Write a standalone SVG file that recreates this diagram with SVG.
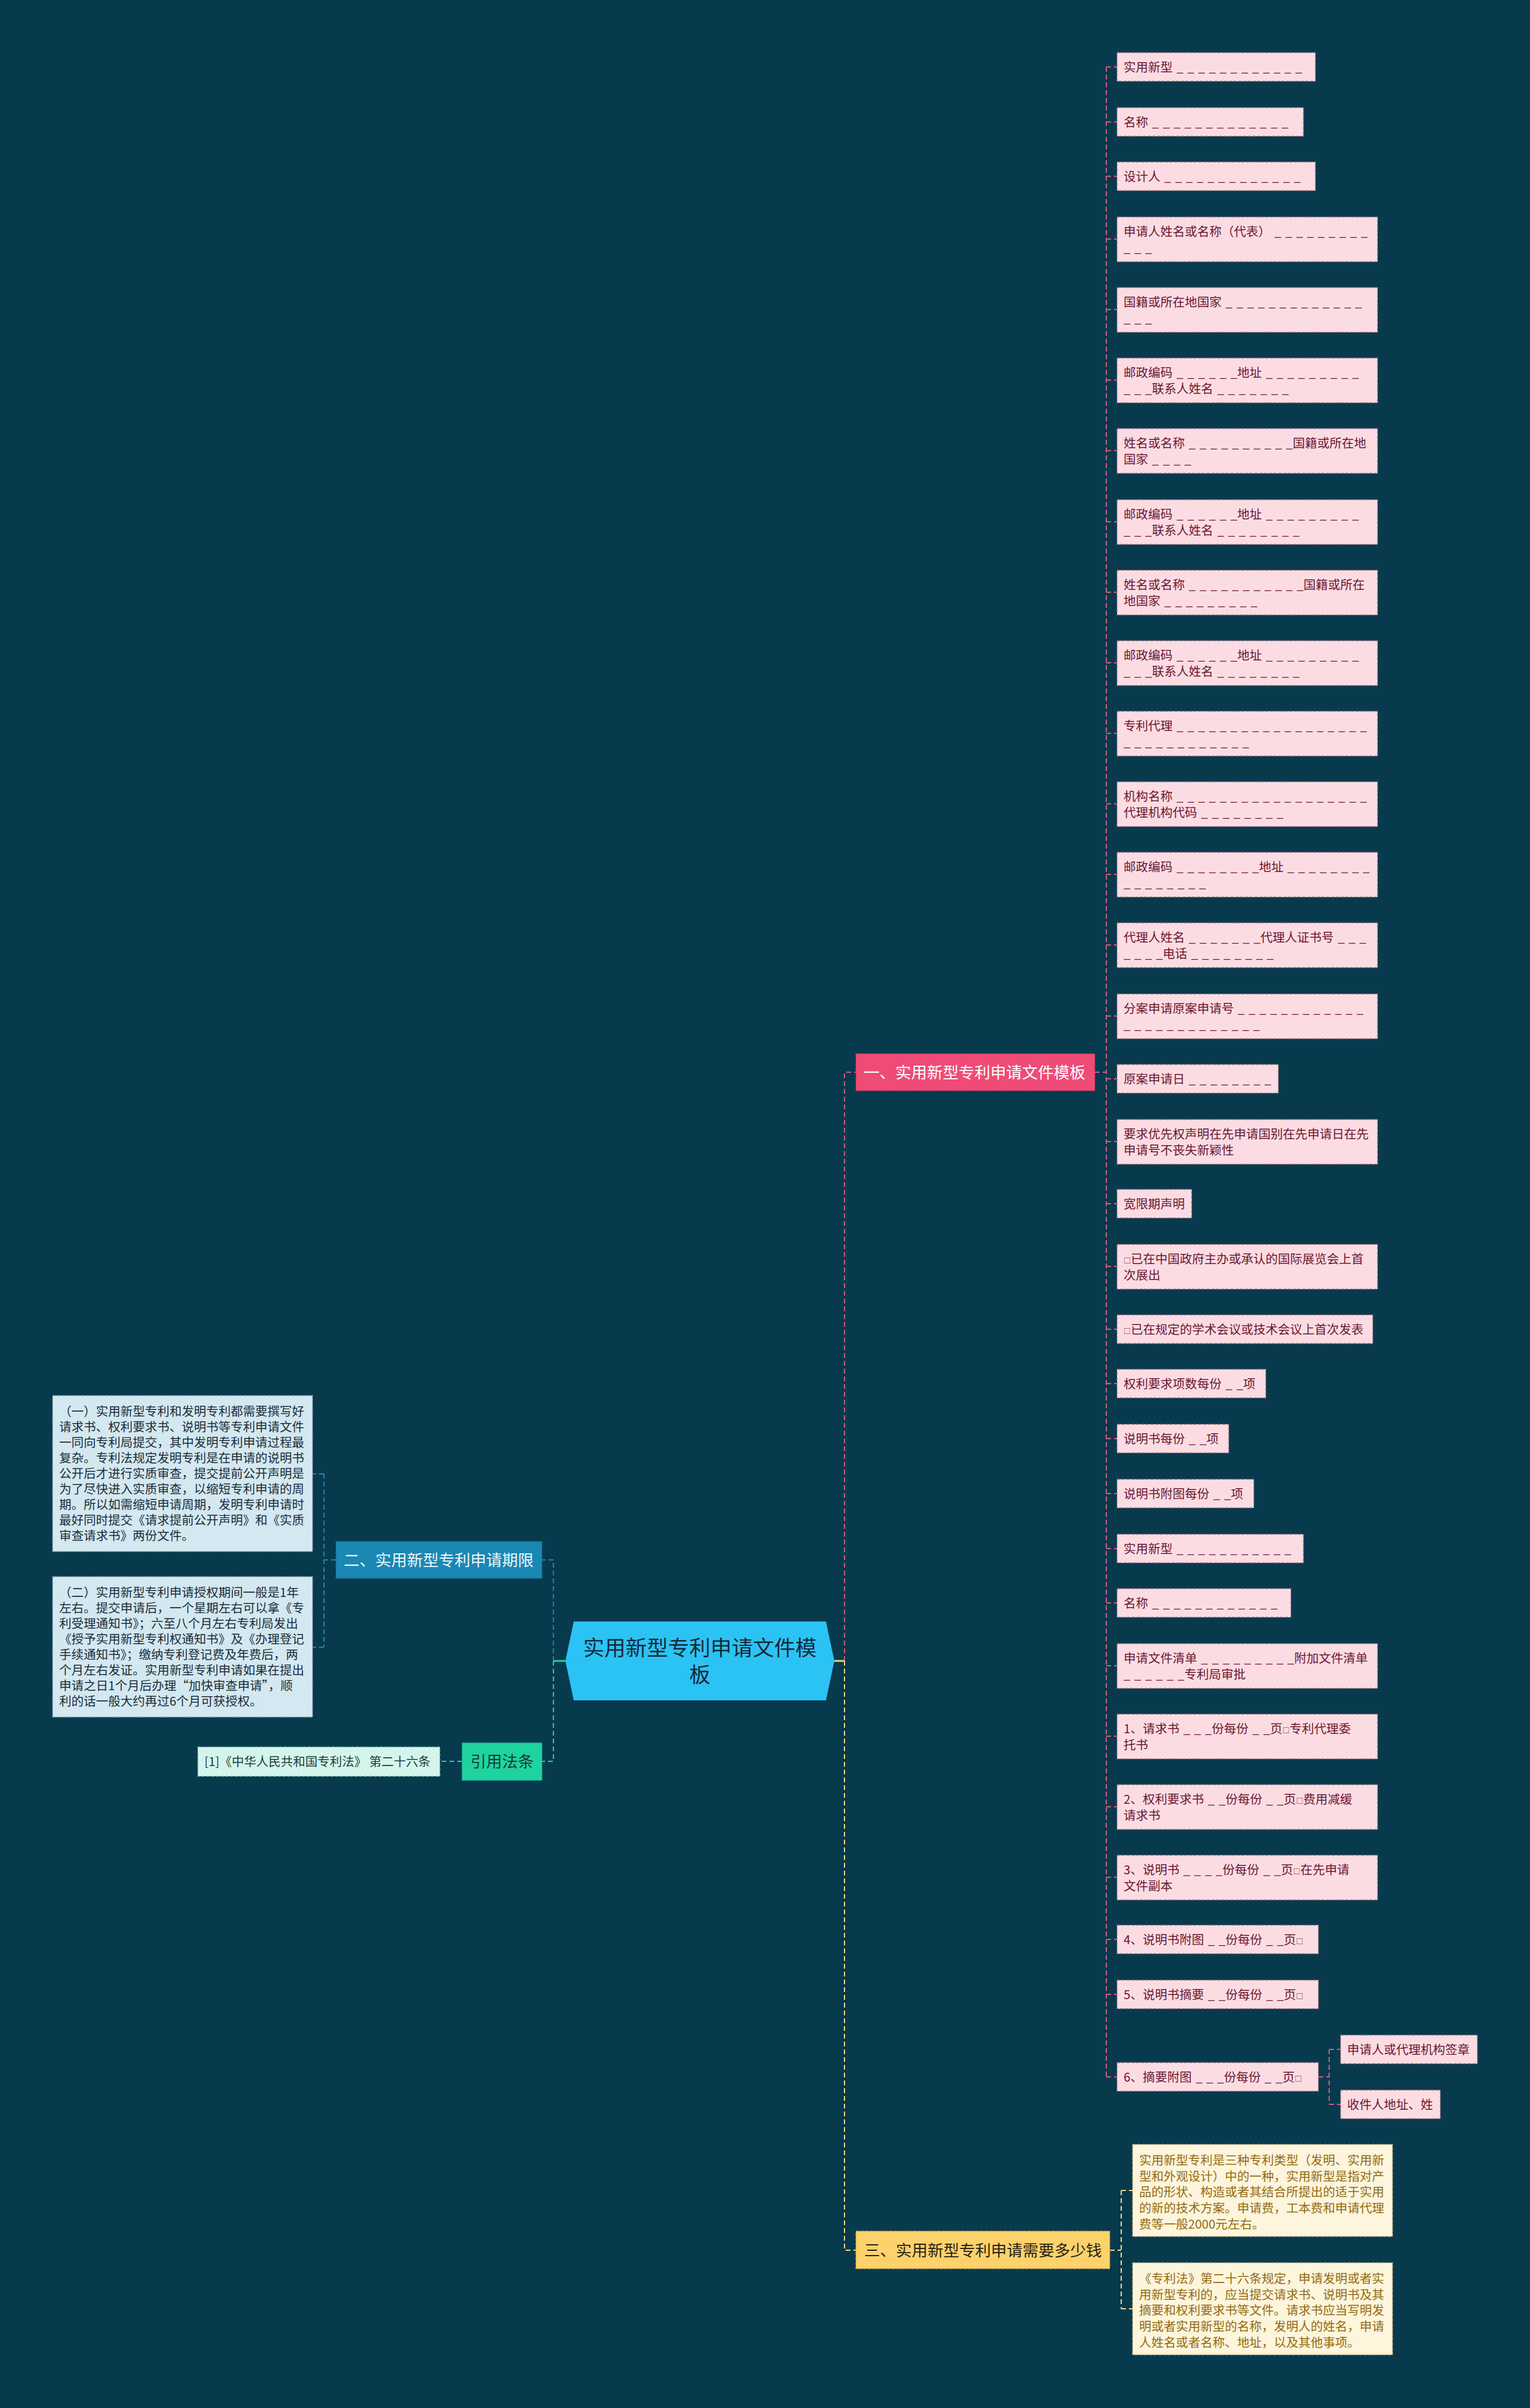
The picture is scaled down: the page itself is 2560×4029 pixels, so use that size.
<svg xmlns="http://www.w3.org/2000/svg" width="2560" height="4029" viewBox="0 0 2560 4029">
<style>
text{font-family:"Noto Sans CJK SC","Noto Sans",sans-serif}
.pn{fill:#fcdce3;stroke:#8c6a74;stroke-width:1.3;stroke-dasharray:5 3}
.pt{font-size:20.5px;fill:#6b1731;word-spacing:2px}
.sq{font-size:12px}
.lb{fill:#d3e8f0;stroke:#7f98a4;stroke-width:1.3;stroke-dasharray:5 3}
.lt{font-size:20.5px;fill:#1c2c3a}
.yb{fill:#fdf5dc;stroke:#b8a878;stroke-width:1.3;stroke-dasharray:5 3}
.yt{font-size:20.5px;fill:#936b10}
.bt{font-size:26.5px}
.c{fill:none;stroke-width:2;stroke-dasharray:8 5}
.cp{stroke:#d35a82}
.cb{stroke:#1b88b3}
.cg{stroke:#1fd3a0}
.cy{stroke:#f0da7a}
</style>
<rect x="0" y="0" width="2560" height="4029" fill="#083a4e"/>

<g id="connectors">
  <path d="M1396,2779 H1413" stroke="#e8d870" stroke-width="3" fill="none"/>
  <path d="M946,2779 H926" stroke="#1fd3a0" stroke-width="3" fill="none"/>
  <path class="c cp" d="M1413,2779 V1794 H1432"/>
  <path class="c cy" d="M1413,2779 V3765 H1432"/>
  <path class="c cb" d="M926,2779 V2610 H907"/>
  <path class="c cg" d="M926,2779 V2947 H907"/>
  <path class="c cb" d="M562,2610 H542 M542,2466 V2756 M542,2466 H523 M542,2756 H523"/>
  <path class="c cg" d="M773,2947 H736"/>
  <path class="c cy" d="M1857,3765 H1876 M1876,3665 V3863 M1876,3665 H1895 M1876,3863 H1895"/>
  <path class="c cp" d="M1832,1794 H1851 M1851,112 V3475"/>
  <path class="c cp" d="M1851,112 H1869 M1851,204 H1869 M1851,295 H1869 M1851,400 H1869 M1851,518 H1869 M1851,636 H1869 M1851,754 H1869 M1851,873 H1869 M1851,991 H1869 M1851,1109 H1869 M1851,1227 H1869 M1851,1345 H1869 M1851,1463 H1869 M1851,1581 H1869 M1851,1700 H1869 M1851,1805 H1869 M1851,1910 H1869 M1851,2014 H1869 M1851,2119 H1869 M1851,2224 H1869 M1851,2315 H1869 M1851,2407 H1869 M1851,2499 H1869 M1851,2591 H1869 M1851,2682 H1869 M1851,2787 H1869 M1851,2905 H1869 M1851,3023 H1869 M1851,3141 H1869 M1851,3245 H1869 M1851,3337 H1869 M1851,3475 H1869"/>
  <path class="c cp" d="M2206,3475 H2224 M2224,3429 V3521 M2224,3429 H2243 M2224,3521 H2243"/>
</g>

<g id="center">
  <polygon points="960,2713 1382,2713 1396,2779 1382,2845 960,2845 946,2779" fill="#2bc3f3"/>
  <text x="1171" y="2770" font-size="35.5" fill="#15283a" text-anchor="middle">实用新型专利申请文件模</text>
  <text x="1171" y="2815" font-size="35.5" fill="#15283a" text-anchor="middle">板</text>
</g>

<g id="b1">
  <rect x="1432" y="1763" width="400" height="62" fill="#ef4b77" stroke="#a8324f" stroke-width="1.3" stroke-dasharray="5 3"/>
  <text class="bt" x="1445" y="1804" fill="#ffffff">一、实用新型专利申请文件模板</text>
</g>
<g id="b2">
  <rect x="562" y="2579" width="345" height="62" fill="#1b88b3" stroke="#11607f" stroke-width="1.3" stroke-dasharray="5 3"/>
  <text class="bt" x="575" y="2620" fill="#eaf6fb">二、实用新型专利申请期限</text>
</g>
<g id="b3">
  <rect x="1432" y="3733" width="425" height="63" fill="#fdd26b" stroke="#b89540" stroke-width="1.3" stroke-dasharray="5 3"/>
  <text class="bt" x="1446" y="3775" fill="#2b2110">三、实用新型专利申请需要多少钱</text>
</g>
<g id="b4">
  <rect x="773" y="2916" width="134" height="63" fill="#1fd3a0" stroke="#14977a" stroke-width="1.3" stroke-dasharray="5 3"/>
  <text class="bt" x="787" y="2957" fill="#123b33">引用法条</text>
</g>
<g id="law">
  <rect x="331" y="2923" width="405" height="49" fill="#d4f5ec" stroke="#7fb0a4" stroke-width="1.3" stroke-dasharray="5 3"/>
  <text x="342" y="2955" font-size="20.5" fill="#1f3d3a">[1]《中华人民共和国专利法》 第二十六条</text>
</g>

<g id="t1">
  <rect class="lb" x="88" y="2335" width="435" height="261"/>
  <text class="lt" x="99" y="2369">（一）实用新型专利和发明专利都需要撰写好</text>
  <text class="lt" x="99" y="2395">请求书、权利要求书、说明书等专利申请文件</text>
  <text class="lt" x="99" y="2421">一同向专利局提交，其中发明专利申请过程最</text>
  <text class="lt" x="99" y="2447">复杂。专利法规定发明专利是在申请的说明书</text>
  <text class="lt" x="99" y="2473">公开后才进行实质审查，提交提前公开声明是</text>
  <text class="lt" x="99" y="2499">为了尽快进入实质审查，以缩短专利申请的周</text>
  <text class="lt" x="99" y="2525">期。所以如需缩短申请周期，发明专利申请时</text>
  <text class="lt" x="99" y="2551">最好同时提交《请求提前公开声明》和《实质</text>
  <text class="lt" x="99" y="2577">审查请求书》两份文件。</text>
</g>
<g id="t2">
  <rect class="lb" x="88" y="2638" width="435" height="235"/>
  <text class="lt" x="99" y="2672">（二）实用新型专利申请授权期间一般是1年</text>
  <text class="lt" x="99" y="2698">左右。提交申请后，一个星期左右可以拿《专</text>
  <text class="lt" x="99" y="2724">利受理通知书》；六至八个月左右专利局发出</text>
  <text class="lt" x="99" y="2750">《授予实用新型专利权通知书》及《办理登记</text>
  <text class="lt" x="99" y="2776">手续通知书》；缴纳专利登记费及年费后，两</text>
  <text class="lt" x="99" y="2802">个月左右发证。实用新型专利申请如果在提出</text>
  <text class="lt" x="99" y="2828">申请之日1个月后办理“加快审查申请”，顺</text>
  <text class="lt" x="99" y="2854">利的话一般大约再过6个月可获授权。</text>
</g>

<g id="y1">
  <rect class="yb" x="1895" y="3588" width="435" height="154"/>
  <text class="yt" x="1906" y="3622">实用新型专利是三种专利类型（发明、实用新</text>
  <text class="yt" x="1906" y="3649">型和外观设计）中的一种，实用新型是指对产</text>
  <text class="yt" x="1906" y="3675">品的形状、构造或者其结合所提出的适于实用</text>
  <text class="yt" x="1906" y="3702">的新的技术方案。申请费，工本费和申请代理</text>
  <text class="yt" x="1906" y="3729">费等一般2000元左右。</text>
</g>
<g id="y2">
  <rect class="yb" x="1895" y="3786" width="435" height="154"/>
  <text class="yt" x="1906" y="3820">《专利法》第二十六条规定，申请发明或者实</text>
  <text class="yt" x="1906" y="3847">用新型专利的，应当提交请求书、说明书及其</text>
  <text class="yt" x="1906" y="3873">摘要和权利要求书等文件。请求书应当写明发</text>
  <text class="yt" x="1906" y="3900">明或者实用新型的名称，发明人的姓名，申请</text>
  <text class="yt" x="1906" y="3927">人姓名或者名称、地址，以及其他事项。</text>
</g>

<g id="n1"><rect class="pn" x="1869" y="88" width="332" height="48"/><text class="pt" x="1880" y="119.5">实用新型 _ _ _ _ _ _ _ _ _ _ _ _</text></g>
<g id="n2"><rect class="pn" x="1869" y="180" width="312" height="48"/><text class="pt" x="1880" y="211.5">名称 _ _ _ _ _ _ _ _ _ _ _ _ _</text></g>
<g id="n3"><rect class="pn" x="1869" y="271" width="332" height="48"/><text class="pt" x="1880" y="302.5">设计人 _ _ _ _ _ _ _ _ _ _ _ _ _</text></g>
<g id="n4"><rect class="pn" x="1869" y="363" width="436" height="75"/><text class="pt" x="1880" y="395">申请人姓名或名称（代表） _ _ _ _ _ _ _ _ _</text><text class="pt" x="1880" y="422">_ _ _</text></g>
<g id="n5"><rect class="pn" x="1869" y="481" width="436" height="75"/><text class="pt" x="1880" y="513">国籍或所在地国家 _ _ _ _ _ _ _ _ _ _ _ _ _</text><text class="pt" x="1880" y="540">_ _ _</text></g>
<g id="n6"><rect class="pn" x="1869" y="599" width="436" height="75"/><text class="pt" x="1880" y="631">邮政编码 _ _ _ _ _ _地址 _ _ _ _ _ _ _ _ _</text><text class="pt" x="1880" y="658">_ _ _联系人姓名 _ _ _ _ _ _ _</text></g>
<g id="n7"><rect class="pn" x="1869" y="717" width="436" height="75"/><text class="pt" x="1880" y="749">姓名或名称 _ _ _ _ _ _ _ _ _ _国籍或所在地</text><text class="pt" x="1880" y="776">国家 _ _ _ _</text></g>
<g id="n8"><rect class="pn" x="1869" y="836" width="436" height="75"/><text class="pt" x="1880" y="868">邮政编码 _ _ _ _ _ _地址 _ _ _ _ _ _ _ _ _</text><text class="pt" x="1880" y="895">_ _ _联系人姓名 _ _ _ _ _ _ _ _</text></g>
<g id="n9"><rect class="pn" x="1869" y="954" width="436" height="75"/><text class="pt" x="1880" y="986">姓名或名称 _ _ _ _ _ _ _ _ _ _ _国籍或所在</text><text class="pt" x="1880" y="1013">地国家 _ _ _ _ _ _ _ _ _</text></g>
<g id="n10"><rect class="pn" x="1869" y="1072" width="436" height="75"/><text class="pt" x="1880" y="1104">邮政编码 _ _ _ _ _ _地址 _ _ _ _ _ _ _ _ _</text><text class="pt" x="1880" y="1131">_ _ _联系人姓名 _ _ _ _ _ _ _ _</text></g>
<g id="n11"><rect class="pn" x="1869" y="1190" width="436" height="75"/><text class="pt" x="1880" y="1222">专利代理 _ _ _ _ _ _ _ _ _ _ _ _ _ _ _ _ _ _</text><text class="pt" x="1880" y="1249">_ _ _ _ _ _ _ _ _ _ _ _</text></g>
<g id="n12"><rect class="pn" x="1869" y="1308" width="436" height="75"/><text class="pt" x="1880" y="1340">机构名称 _ _ _ _ _ _ _ _ _ _ _ _ _ _ _ _ _ _</text><text class="pt" x="1880" y="1367">代理机构代码 _ _ _ _ _ _ _ _</text></g>
<g id="n13"><rect class="pn" x="1869" y="1426" width="436" height="75"/><text class="pt" x="1880" y="1458">邮政编码 _ _ _ _ _ _ _ _地址 _ _ _ _ _ _ _ _</text><text class="pt" x="1880" y="1485">_ _ _ _ _ _ _ _</text></g>
<g id="n14"><rect class="pn" x="1869" y="1544" width="436" height="75"/><text class="pt" x="1880" y="1576">代理人姓名 _ _ _ _ _ _ _代理人证书号 _ _ _</text><text class="pt" x="1880" y="1603">_ _ _ _电话 _ _ _ _ _ _ _ _</text></g>
<g id="n15"><rect class="pn" x="1869" y="1663" width="436" height="75"/><text class="pt" x="1880" y="1695">分案申请原案申请号 _ _ _ _ _ _ _ _ _ _ _ _</text><text class="pt" x="1880" y="1722">_ _ _ _ _ _ _ _ _ _ _ _ _</text></g>
<g id="n16"><rect class="pn" x="1869" y="1781" width="270" height="48"/><text class="pt" x="1880" y="1812.5">原案申请日 _ _ _ _ _ _ _ _</text></g>
<g id="n17"><rect class="pn" x="1869" y="1873" width="436" height="75"/><text class="pt" x="1880" y="1905">要求优先权声明在先申请国别在先申请日在先</text><text class="pt" x="1880" y="1932">申请号不丧失新颖性</text></g>
<g id="n18"><rect class="pn" x="1869" y="1990" width="125" height="48"/><text class="pt" x="1880" y="2021.5">宽限期声明</text></g>
<g id="n19"><rect class="pn" x="1869" y="2082" width="436" height="75"/><text class="pt" x="1880" y="2114"><tspan class="sq">□</tspan>已在中国政府主办或承认的国际展览会上首</text><text class="pt" x="1880" y="2141">次展出</text></g>
<g id="n20"><rect class="pn" x="1869" y="2200" width="428" height="48"/><text class="pt" x="1880" y="2231.5"><tspan class="sq">□</tspan>已在规定的学术会议或技术会议上首次发表</text></g>
<g id="n21"><rect class="pn" x="1869" y="2291" width="249" height="48"/><text class="pt" x="1880" y="2322.5">权利要求项数每份 _ _项</text></g>
<g id="n22"><rect class="pn" x="1869" y="2383" width="187" height="48"/><text class="pt" x="1880" y="2414.5">说明书每份 _ _项</text></g>
<g id="n23"><rect class="pn" x="1869" y="2475" width="229" height="48"/><text class="pt" x="1880" y="2506.5">说明书附图每份 _ _项</text></g>
<g id="n24"><rect class="pn" x="1869" y="2567" width="312" height="48"/><text class="pt" x="1880" y="2598.5">实用新型 _ _ _ _ _ _ _ _ _ _ _</text></g>
<g id="n25"><rect class="pn" x="1869" y="2658" width="291" height="48"/><text class="pt" x="1880" y="2689.5">名称 _ _ _ _ _ _ _ _ _ _ _ _</text></g>
<g id="n26"><rect class="pn" x="1869" y="2750" width="436" height="75"/><text class="pt" x="1880" y="2782">申请文件清单 _ _ _ _ _ _ _ _ _附加文件清单</text><text class="pt" x="1880" y="2809">_ _ _ _ _ _专利局审批</text></g>
<g id="n27"><rect class="pn" x="1869" y="2868" width="436" height="75"/><text class="pt" x="1880" y="2900">1、请求书 _ _ _份每份 _ _页<tspan class="sq">□</tspan>专利代理委</text><text class="pt" x="1880" y="2927">托书</text></g>
<g id="n28"><rect class="pn" x="1869" y="2986" width="436" height="75"/><text class="pt" x="1880" y="3018">2、权利要求书 _ _份每份 _ _页<tspan class="sq">□</tspan>费用减缓</text><text class="pt" x="1880" y="3045">请求书</text></g>
<g id="n29"><rect class="pn" x="1869" y="3104" width="436" height="75"/><text class="pt" x="1880" y="3136">3、说明书 _ _ _ _份每份 _ _页<tspan class="sq">□</tspan>在先申请</text><text class="pt" x="1880" y="3163">文件副本</text></g>
<g id="n30"><rect class="pn" x="1869" y="3221" width="337" height="48"/><text class="pt" x="1880" y="3252.5">4、说明书附图 _ _份每份 _ _页<tspan class="sq">□</tspan></text></g>
<g id="n31"><rect class="pn" x="1869" y="3313" width="337" height="48"/><text class="pt" x="1880" y="3344.5">5、说明书摘要 _ _份每份 _ _页<tspan class="sq">□</tspan></text></g>
<g id="n32"><rect class="pn" x="1869" y="3451" width="337" height="48"/><text class="pt" x="1880" y="3482.5">6、摘要附图 _ _ _份每份 _ _页<tspan class="sq">□</tspan></text></g>
<g id="n33"><rect class="pn" x="2243" y="3405" width="229" height="48"/><text class="pt" x="2254" y="3436.5">申请人或代理机构签章</text></g>
<g id="n34"><rect class="pn" x="2243" y="3497" width="167" height="48"/><text class="pt" x="2254" y="3528.5">收件人地址、姓</text></g>
</svg>
